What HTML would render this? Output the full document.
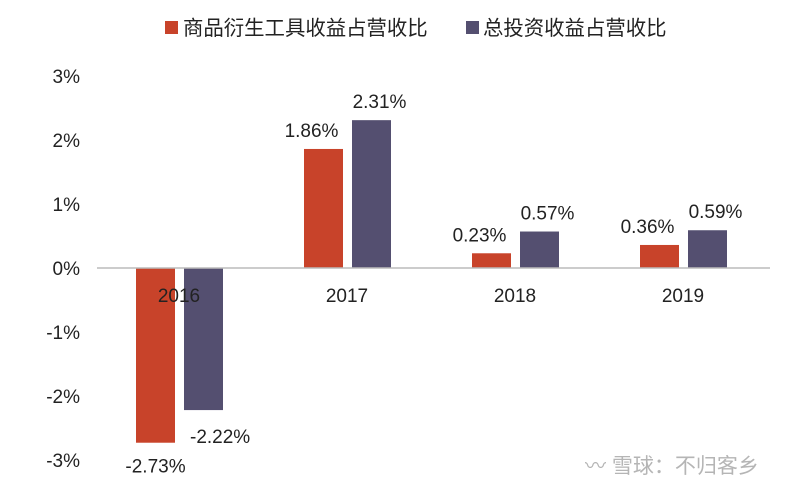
<!DOCTYPE html>
<html><head><meta charset="utf-8"><style>
body{margin:0;background:#fff;}
svg text{font-family:"Liberation Sans","Noto Sans CJK SC",sans-serif;}
</style></head><body>
<svg id="chart" width="800" height="486" viewBox="0 0 800 486" xmlns="http://www.w3.org/2000/svg">
<g>
<rect x="165" y="21" width="13" height="13" fill="#c8432a"/>
<text x="183" y="35" font-size="20.4" fill="#222">商品衍生工具收益占营收比</text>
<rect x="466" y="21" width="13" height="13" fill="#544f70"/>
<text x="483" y="35" font-size="20.4" fill="#222">总投资收益占营收比</text>
</g>
<g id="yaxis"></g>
<g id="bars"></g>
<line x1="97" y1="268" x2="770" y2="268" stroke="#bbb" stroke-width="1.5"/>
<g id="xlabels"></g>
<text x="585" y="473" font-size="21" fill="#b5b5b5">〰 雪球：不归客乡</text>
</svg>
<script>
const categories=["2016","2017","2018","2019"];
const commodityShare=[-2.73,1.86,0.23,0.36];
const totalShare=[-2.22,2.31,0.57,0.59];
const yTicks=[3,2,1,0,-1,-2,-3];
const NS="http://www.w3.org/2000/svg";
const y=v=>268-v*64;
const band=168, x0=97;
const xc=i=>x0+band*(i+0.5)-2;
const svg=document.getElementById('chart');
function mk(tag,attrs,parent,txt){const e=document.createElementNS(NS,tag);for(const k in attrs)e.setAttribute(k,attrs[k]);if(txt!==undefined)e.textContent=txt;parent.appendChild(e);return e;}
const ya=document.getElementById('yaxis');
yTicks.forEach(t=>{const e=mk('text',{x:80,y:y(t)+7,'font-size':19,'text-anchor':'end',fill:'#222'},ya,t+'%');

});
const bars=document.getElementById('bars');
const fmt=v=>v.toFixed(2)+'%';
categories.forEach((c,i)=>{
  const cx=xc(i);
  [[commodityShare[i],'#c8432a',cx-43,'bar-commodity-'+c],[totalShare[i],'#544f70',cx+5,'bar-total-'+c]].forEach(([v,col,bx,nm],k)=>{
    const top=Math.min(y(v),y(0)), h=Math.abs(y(v)-y(0));
    const r=mk('rect',{x:bx,y:top,width:39,height:h,fill:col},bars);
    
    
    let lx,ly,anchor='middle';
    if(v>=0){lx=bx+19.5;ly=top-12;if(k===0)lx-=12;else lx+=8;}
    else{ if(k===0){lx=bx+19.5;ly=y(v)+30;} else {lx=bx+6;ly=y(v)+33;anchor='start';} }
    const t=mk('text',{x:lx,y:ly,'font-size':19,'text-anchor':anchor,fill:'#222'},bars,fmt(v));
    
    
  });
});
const xl=document.getElementById('xlabels');
categories.forEach((c,i)=>{const t=mk('text',{x:xc(i),y:302,'font-size':19,'text-anchor':'middle',fill:'#222'},xl,c);

});
</script>
</body></html>
